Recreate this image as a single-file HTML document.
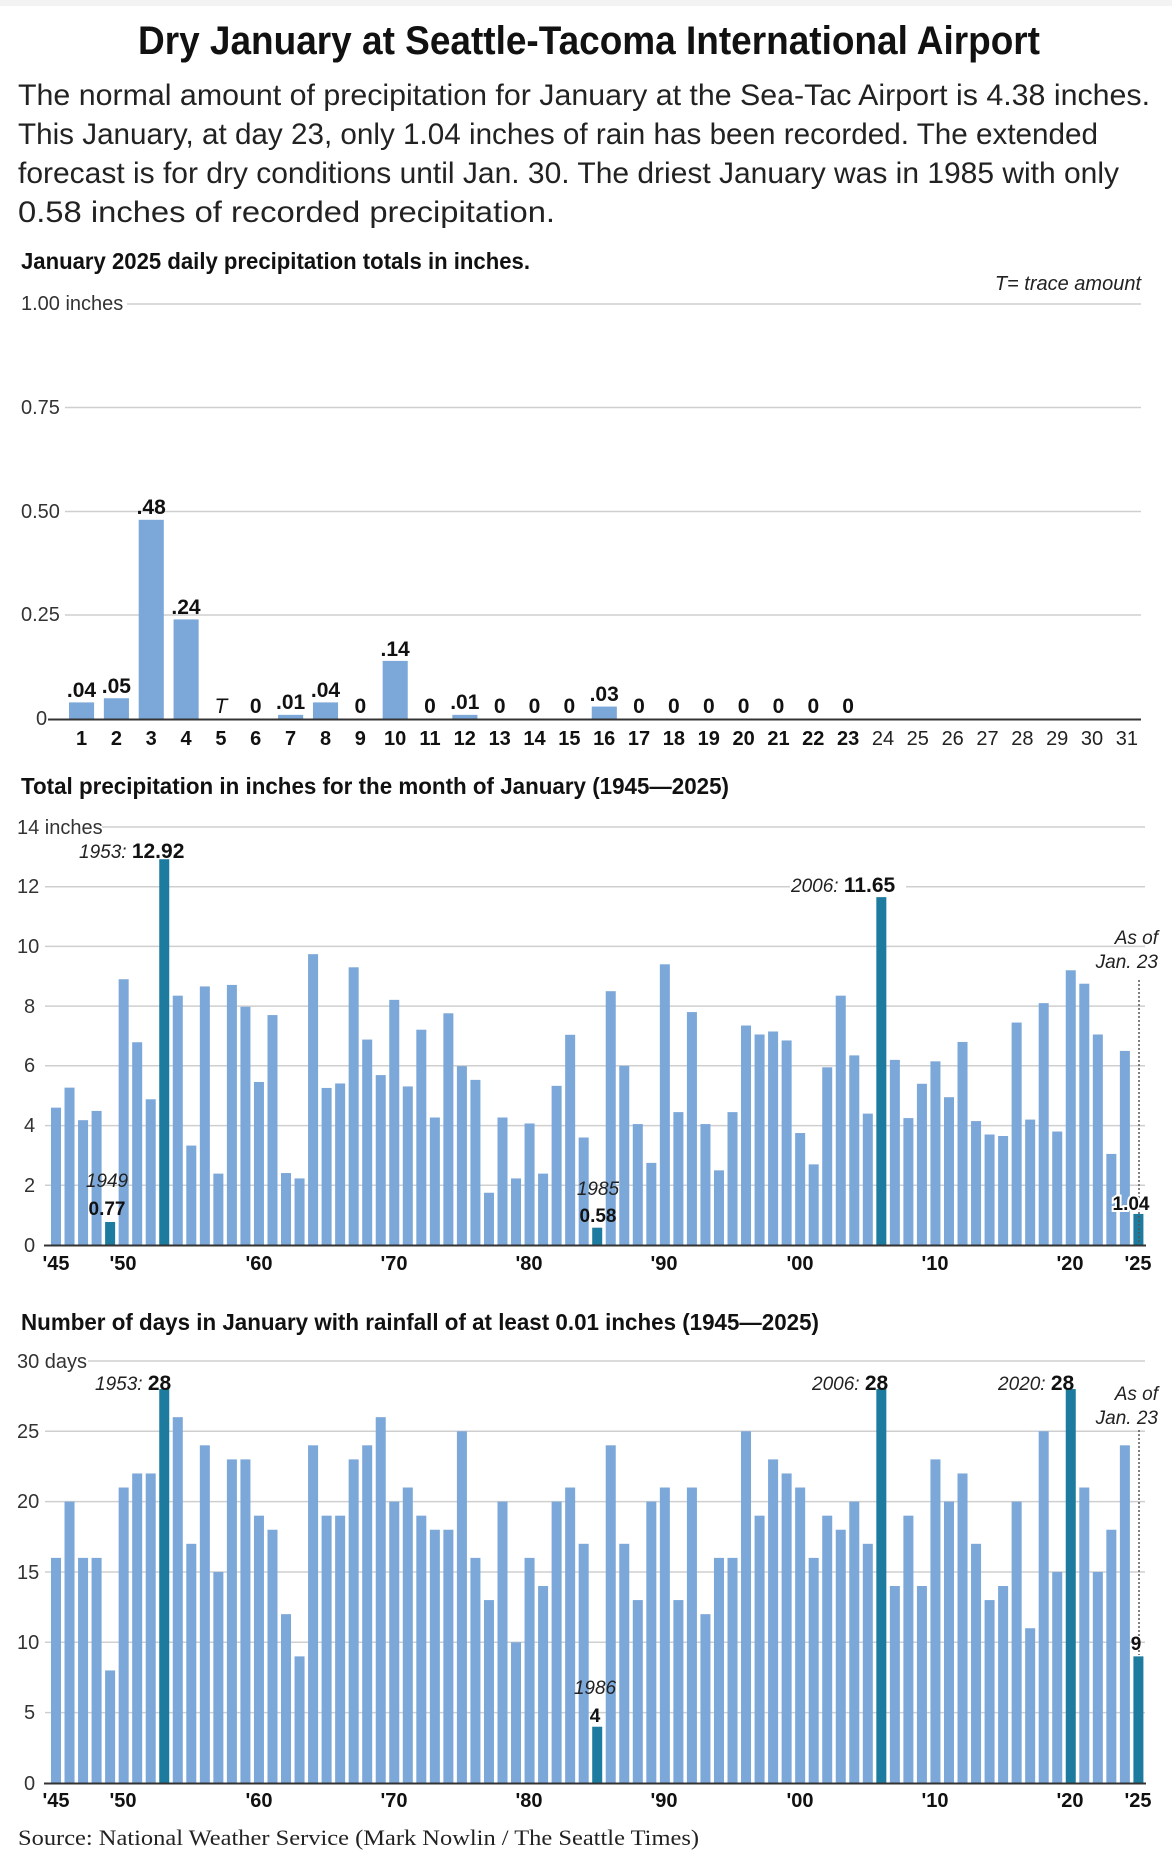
<!DOCTYPE html>
<html><head><meta charset="utf-8"><style>
html,body{margin:0;padding:0;background:#fff;width:1172px;height:1868px;overflow:hidden}
svg{display:block}
text{font-family:"Liberation Sans Narrow","Liberation Sans",sans-serif;fill:#222}
.b{font-weight:bold;fill:#111}
.t{font-size:20px;fill:#333}
.i{font-style:italic}
.g{stroke:#cfcfcf;stroke-width:1.5}
.lb{fill:#7ba7d9}
.dk{fill:#1e7ba0}
.xl{font-size:20px;font-weight:bold;fill:#111;text-anchor:middle}
.an{font-family:"Liberation Sans",sans-serif;font-size:19px}
</style></head><body>
<svg width="1172" height="1868" viewBox="0 0 1172 1868" xmlns="http://www.w3.org/2000/svg">
<rect x="0" y="0" width="1172" height="6" fill="#f3f3f3"/>
<text x="589" y="54" text-anchor="middle" class="b" font-size="40" textLength="902" lengthAdjust="spacingAndGlyphs">Dry January at Seattle-Tacoma International Airport</text>
<g font-size="30" fill="#222">
<text x="18" y="105" textLength="1132" lengthAdjust="spacingAndGlyphs">The normal amount of precipitation for January at the Sea-Tac Airport is 4.38 inches.</text>
<text x="18" y="144" textLength="1080" lengthAdjust="spacingAndGlyphs">This January, at day 23, only 1.04 inches of rain has been recorded. The extended</text>
<text x="18" y="183" textLength="1101" lengthAdjust="spacingAndGlyphs">forecast is for dry conditions until Jan. 30. The driest January was in 1985 with only</text>
<text x="18" y="222" textLength="537" lengthAdjust="spacingAndGlyphs">0.58 inches of recorded precipitation.</text>
</g>

<!-- Chart 1 -->
<text x="21" y="269" class="b" font-size="23" textLength="509" lengthAdjust="spacingAndGlyphs">January 2025 daily precipitation totals in inches.</text>
<text x="1141" y="290" class="i" font-size="20" text-anchor="end" fill="#333">T= trace amount</text>
<line x1="127" y1="304" x2="1141" y2="304" class="g"/>
<line x1="65" y1="407.5" x2="1141" y2="407.5" class="g"/>
<line x1="65" y1="511.5" x2="1141" y2="511.5" class="g"/>
<line x1="65" y1="615" x2="1141" y2="615" class="g"/>
<text x="21" y="310" class="t">1.00 inches</text>
<text x="21" y="414" class="t">0.75</text>
<text x="21" y="518" class="t">0.50</text>
<text x="21" y="621" class="t">0.25</text>
<text x="36" y="725" class="t">0</text>
<g transform="translate(69,719) scale(34.85,-415)" class="lb">
<rect x="0" y="0" width="0.72" height="0.04"/>
<rect x="1" y="0" width="0.72" height="0.05"/>
<rect x="2" y="0" width="0.72" height="0.48"/>
<rect x="3" y="0" width="0.72" height="0.24"/>
<rect x="6" y="0" width="0.72" height="0.01"/>
<rect x="7" y="0" width="0.72" height="0.04"/>
<rect x="9" y="0" width="0.72" height="0.14"/>
<rect x="11" y="0" width="0.72" height="0.01"/>
<rect x="15" y="0" width="0.72" height="0.03"/>
</g>
<line x1="48" y1="719.5" x2="1141" y2="719.5" stroke="#333" stroke-width="2"/>
<g font-size="21" class="b" text-anchor="middle">
<text x="81.5" y="697" class="b">.04</text>
<text x="116.4" y="693" class="b">.05</text>
<text x="151.2" y="514" class="b">.48</text>
<text x="186" y="614" class="b">.24</text>
<text x="220.9" y="713" class="b i" style="font-weight:normal">T</text>
<text x="255.7" y="713" class="b">0</text>
<text x="290.6" y="709" class="b">.01</text>
<text x="325.5" y="697" class="b">.04</text>
<text x="360.3" y="713" class="b">0</text>
<text x="395.1" y="656" class="b">.14</text>
<text x="430" y="713" class="b">0</text>
<text x="464.8" y="709" class="b">.01</text>
<text x="499.7" y="713" class="b">0</text>
<text x="534.5" y="713" class="b">0</text>
<text x="569.4" y="713" class="b">0</text>
<text x="604.2" y="701" class="b">.03</text>
<text x="639" y="713" class="b">0</text>
<text x="673.9" y="713" class="b">0</text>
<text x="708.8" y="713" class="b">0</text>
<text x="743.6" y="713" class="b">0</text>
<text x="778.5" y="713" class="b">0</text>
<text x="813.3" y="713" class="b">0</text>
<text x="848.1" y="713" class="b">0</text>
</g>
<g font-size="20" text-anchor="middle">
<text x="81.5" y="745" class="b">1</text><text x="116.4" y="745" class="b">2</text><text x="151.2" y="745" class="b">3</text><text x="186" y="745" class="b">4</text><text x="220.9" y="745" class="b">5</text><text x="255.7" y="745" class="b">6</text><text x="290.6" y="745" class="b">7</text><text x="325.5" y="745" class="b">8</text><text x="360.3" y="745" class="b">9</text><text x="395.1" y="745" class="b">10</text><text x="430" y="745" class="b">11</text><text x="464.8" y="745" class="b">12</text><text x="499.7" y="745" class="b">13</text><text x="534.5" y="745" class="b">14</text><text x="569.4" y="745" class="b">15</text><text x="604.2" y="745" class="b">16</text><text x="639" y="745" class="b">17</text><text x="673.9" y="745" class="b">18</text><text x="708.8" y="745" class="b">19</text><text x="743.6" y="745" class="b">20</text><text x="778.5" y="745" class="b">21</text><text x="813.3" y="745" class="b">22</text><text x="848.1" y="745" class="b">23</text>
<g fill="#777"><text x="883" y="745" fill="#777">24</text><text x="917.8" y="745" fill="#777">25</text><text x="952.7" y="745" fill="#777">26</text><text x="987.5" y="745" fill="#777">27</text><text x="1022.4" y="745" fill="#777">28</text><text x="1057.2" y="745" fill="#777">29</text><text x="1092" y="745" fill="#777">30</text><text x="1126.9" y="745" fill="#777">31</text></g>
</g>

<!-- Chart 2 -->
<text x="21" y="794" class="b" font-size="23" textLength="708" lengthAdjust="spacingAndGlyphs">Total precipitation in inches for the month of January (1945—2025)</text>
<line x1="102" y1="827" x2="1145" y2="827" class="g"/>
<line x1="45" y1="886.7" x2="790" y2="886.7" class="g"/>
<line x1="906" y1="886.7" x2="1145" y2="886.7" class="g"/>
<line x1="45" y1="946.4" x2="1145" y2="946.4" class="g"/>
<line x1="45" y1="1006.1" x2="1145" y2="1006.1" class="g"/>
<line x1="45" y1="1065.8" x2="1145" y2="1065.8" class="g"/>
<line x1="45" y1="1125.6" x2="1145" y2="1125.6" class="g"/>
<line x1="45" y1="1185.3" x2="1145" y2="1185.3" class="g"/>
<text x="17" y="834" class="t">14 inches</text>
<text x="17" y="893" class="t">12</text><text x="17" y="953" class="t">10</text><text x="24" y="1013" class="t">8</text><text x="24" y="1072" class="t">6</text><text x="24" y="1132" class="t">4</text><text x="24" y="1192" class="t">2</text><text x="24" y="1252" class="t">0</text>
<g transform="translate(51,1245) scale(13.53,-29.86)" class="lb">
<rect x="0" y="0" width="0.74" height="4.6"/><rect x="1" y="0" width="0.74" height="5.27"/><rect x="2" y="0" width="0.74" height="4.18"/><rect x="3" y="0" width="0.74" height="4.49"/><rect x="4" y="0" width="0.74" height="0.77" class="dk"/><rect x="5" y="0" width="0.74" height="8.9"/><rect x="6" y="0" width="0.74" height="6.79"/><rect x="7" y="0" width="0.74" height="4.88"/><rect x="8" y="0" width="0.74" height="12.92" class="dk"/><rect x="9" y="0" width="0.74" height="8.35"/>
<rect x="10" y="0" width="0.74" height="3.33"/><rect x="11" y="0" width="0.74" height="8.66"/><rect x="12" y="0" width="0.74" height="2.39"/><rect x="13" y="0" width="0.74" height="8.71"/><rect x="14" y="0" width="0.74" height="7.98"/><rect x="15" y="0" width="0.74" height="5.46"/><rect x="16" y="0" width="0.74" height="7.7"/><rect x="17" y="0" width="0.74" height="2.41"/><rect x="18" y="0" width="0.74" height="2.23"/><rect x="19" y="0" width="0.74" height="9.74"/>
<rect x="20" y="0" width="0.74" height="5.26"/><rect x="21" y="0" width="0.74" height="5.41"/><rect x="22" y="0" width="0.74" height="9.3"/><rect x="23" y="0" width="0.74" height="6.88"/><rect x="24" y="0" width="0.74" height="5.69"/><rect x="25" y="0" width="0.74" height="8.21"/><rect x="26" y="0" width="0.74" height="5.31"/><rect x="27" y="0" width="0.74" height="7.21"/><rect x="28" y="0" width="0.74" height="4.27"/><rect x="29" y="0" width="0.74" height="7.76"/>
<rect x="30" y="0" width="0.74" height="5.99"/><rect x="31" y="0" width="0.74" height="5.53"/><rect x="32" y="0" width="0.74" height="1.75"/><rect x="33" y="0" width="0.74" height="4.27"/><rect x="34" y="0" width="0.74" height="2.23"/><rect x="35" y="0" width="0.74" height="4.07"/><rect x="36" y="0" width="0.74" height="2.39"/><rect x="37" y="0" width="0.74" height="5.33"/><rect x="38" y="0" width="0.74" height="7.04"/><rect x="39" y="0" width="0.74" height="3.6"/>
<rect x="40" y="0" width="0.74" height="0.58" class="dk"/><rect x="41" y="0" width="0.74" height="8.5"/><rect x="42" y="0" width="0.74" height="6.0"/><rect x="43" y="0" width="0.74" height="4.05"/><rect x="44" y="0" width="0.74" height="2.75"/><rect x="45" y="0" width="0.74" height="9.4"/><rect x="46" y="0" width="0.74" height="4.45"/><rect x="47" y="0" width="0.74" height="7.8"/><rect x="48" y="0" width="0.74" height="4.05"/><rect x="49" y="0" width="0.74" height="2.5"/>
<rect x="50" y="0" width="0.74" height="4.45"/><rect x="51" y="0" width="0.74" height="7.35"/><rect x="52" y="0" width="0.74" height="7.05"/><rect x="53" y="0" width="0.74" height="7.15"/><rect x="54" y="0" width="0.74" height="6.85"/><rect x="55" y="0" width="0.74" height="3.75"/><rect x="56" y="0" width="0.74" height="2.7"/><rect x="57" y="0" width="0.74" height="5.95"/><rect x="58" y="0" width="0.74" height="8.35"/><rect x="59" y="0" width="0.74" height="6.35"/>
<rect x="60" y="0" width="0.74" height="4.4"/><rect x="61" y="0" width="0.74" height="11.65" class="dk"/><rect x="62" y="0" width="0.74" height="6.2"/><rect x="63" y="0" width="0.74" height="4.25"/><rect x="64" y="0" width="0.74" height="5.4"/><rect x="65" y="0" width="0.74" height="6.15"/><rect x="66" y="0" width="0.74" height="4.95"/><rect x="67" y="0" width="0.74" height="6.8"/><rect x="68" y="0" width="0.74" height="4.15"/><rect x="69" y="0" width="0.74" height="3.7"/>
<rect x="70" y="0" width="0.74" height="3.65"/><rect x="71" y="0" width="0.74" height="7.45"/><rect x="72" y="0" width="0.74" height="4.2"/><rect x="73" y="0" width="0.74" height="8.1"/><rect x="74" y="0" width="0.74" height="3.8"/><rect x="75" y="0" width="0.74" height="9.2"/><rect x="76" y="0" width="0.74" height="8.75"/><rect x="77" y="0" width="0.74" height="7.05"/><rect x="78" y="0" width="0.74" height="3.05"/><rect x="79" y="0" width="0.74" height="6.5"/>
<rect x="80" y="0" width="0.74" height="1.04" class="dk"/>
</g>
<line x1="44" y1="1245.5" x2="1146" y2="1245.5" stroke="#333" stroke-width="2"/>
<line x1="1139" y1="980" x2="1139" y2="1243" stroke="#555" stroke-width="1.5" stroke-dasharray="2,2"/>
<text x="79" y="858" class="an i">1953: <tspan class="b" font-style="normal" font-size="21">12.92</tspan></text>
<text x="791" y="892" class="an i">2006: <tspan class="b" font-style="normal" font-size="21">11.65</tspan></text>
<text x="1158" y="944" class="an i" text-anchor="end">As of</text>
<text x="1158" y="968" class="an i" text-anchor="end">Jan. 23</text>
<text x="107" y="1187" class="an i" text-anchor="middle">1949</text>
<text x="107" y="1215" class="an b" font-size="21" text-anchor="middle">0.77</text>
<text x="598" y="1195" class="an i" text-anchor="middle">1985</text>
<text x="598" y="1222" class="an b" font-size="21" text-anchor="middle">0.58</text>
<text x="1131" y="1210" class="an b" font-size="21" text-anchor="middle" stroke="#fff" stroke-width="4" paint-order="stroke">1.04</text>
<g>
<text x="56" y="1270" class="xl">'45</text><text x="123" y="1270" class="xl">'50</text><text x="259" y="1270" class="xl">'60</text><text x="394" y="1270" class="xl">'70</text><text x="529" y="1270" class="xl">'80</text><text x="664" y="1270" class="xl">'90</text><text x="800" y="1270" class="xl">'00</text><text x="935" y="1270" class="xl">'10</text><text x="1070" y="1270" class="xl">'20</text><text x="1138" y="1270" class="xl">'25</text>
</g>

<!-- Chart 3 -->
<text x="21" y="1330" class="b" font-size="23" textLength="798" lengthAdjust="spacingAndGlyphs">Number of days in January with rainfall of at least 0.01 inches (1945—2025)</text>
<line x1="88" y1="1361" x2="1145" y2="1361" class="g"/>
<line x1="45" y1="1431.3" x2="1145" y2="1431.3" class="g"/>
<line x1="45" y1="1501.6" x2="1145" y2="1501.6" class="g"/>
<line x1="45" y1="1572" x2="1145" y2="1572" class="g"/>
<line x1="45" y1="1642.3" x2="1145" y2="1642.3" class="g"/>
<line x1="45" y1="1712.6" x2="1145" y2="1712.6" class="g"/>
<text x="17" y="1368" class="t">30 days</text>
<text x="17" y="1438" class="t">25</text><text x="17" y="1508" class="t">20</text><text x="17" y="1579" class="t">15</text><text x="17" y="1649" class="t">10</text><text x="24" y="1719" class="t">5</text><text x="24" y="1790" class="t">0</text>
<g transform="translate(51,1783) scale(13.53,-14.07)" class="lb">
<rect x="0" y="0" width="0.74" height="16"/><rect x="1" y="0" width="0.74" height="20"/><rect x="2" y="0" width="0.74" height="16"/><rect x="3" y="0" width="0.74" height="16"/><rect x="4" y="0" width="0.74" height="8"/><rect x="5" y="0" width="0.74" height="21"/><rect x="6" y="0" width="0.74" height="22"/><rect x="7" y="0" width="0.74" height="22"/><rect x="8" y="0" width="0.74" height="28" class="dk"/><rect x="9" y="0" width="0.74" height="26"/>
<rect x="10" y="0" width="0.74" height="17"/><rect x="11" y="0" width="0.74" height="24"/><rect x="12" y="0" width="0.74" height="15"/><rect x="13" y="0" width="0.74" height="23"/><rect x="14" y="0" width="0.74" height="23"/><rect x="15" y="0" width="0.74" height="19"/><rect x="16" y="0" width="0.74" height="18"/><rect x="17" y="0" width="0.74" height="12"/><rect x="18" y="0" width="0.74" height="9"/><rect x="19" y="0" width="0.74" height="24"/>
<rect x="20" y="0" width="0.74" height="19"/><rect x="21" y="0" width="0.74" height="19"/><rect x="22" y="0" width="0.74" height="23"/><rect x="23" y="0" width="0.74" height="24"/><rect x="24" y="0" width="0.74" height="26"/><rect x="25" y="0" width="0.74" height="20"/><rect x="26" y="0" width="0.74" height="21"/><rect x="27" y="0" width="0.74" height="19"/><rect x="28" y="0" width="0.74" height="18"/><rect x="29" y="0" width="0.74" height="18"/>
<rect x="30" y="0" width="0.74" height="25"/><rect x="31" y="0" width="0.74" height="16"/><rect x="32" y="0" width="0.74" height="13"/><rect x="33" y="0" width="0.74" height="20"/><rect x="34" y="0" width="0.74" height="10"/><rect x="35" y="0" width="0.74" height="16"/><rect x="36" y="0" width="0.74" height="14"/><rect x="37" y="0" width="0.74" height="20"/><rect x="38" y="0" width="0.74" height="21"/><rect x="39" y="0" width="0.74" height="17"/>
<rect x="40" y="0" width="0.74" height="4" class="dk"/><rect x="41" y="0" width="0.74" height="24"/><rect x="42" y="0" width="0.74" height="17"/><rect x="43" y="0" width="0.74" height="13"/><rect x="44" y="0" width="0.74" height="20"/><rect x="45" y="0" width="0.74" height="21"/><rect x="46" y="0" width="0.74" height="13"/><rect x="47" y="0" width="0.74" height="21"/><rect x="48" y="0" width="0.74" height="12"/><rect x="49" y="0" width="0.74" height="16"/>
<rect x="50" y="0" width="0.74" height="16"/><rect x="51" y="0" width="0.74" height="25"/><rect x="52" y="0" width="0.74" height="19"/><rect x="53" y="0" width="0.74" height="23"/><rect x="54" y="0" width="0.74" height="22"/><rect x="55" y="0" width="0.74" height="21"/><rect x="56" y="0" width="0.74" height="16"/><rect x="57" y="0" width="0.74" height="19"/><rect x="58" y="0" width="0.74" height="18"/><rect x="59" y="0" width="0.74" height="20"/>
<rect x="60" y="0" width="0.74" height="17"/><rect x="61" y="0" width="0.74" height="28" class="dk"/><rect x="62" y="0" width="0.74" height="14"/><rect x="63" y="0" width="0.74" height="19"/><rect x="64" y="0" width="0.74" height="14"/><rect x="65" y="0" width="0.74" height="23"/><rect x="66" y="0" width="0.74" height="20"/><rect x="67" y="0" width="0.74" height="22"/><rect x="68" y="0" width="0.74" height="17"/><rect x="69" y="0" width="0.74" height="13"/>
<rect x="70" y="0" width="0.74" height="14"/><rect x="71" y="0" width="0.74" height="20"/><rect x="72" y="0" width="0.74" height="11"/><rect x="73" y="0" width="0.74" height="25"/><rect x="74" y="0" width="0.74" height="15"/><rect x="75" y="0" width="0.74" height="28" class="dk"/><rect x="76" y="0" width="0.74" height="21"/><rect x="77" y="0" width="0.74" height="15"/><rect x="78" y="0" width="0.74" height="18"/><rect x="79" y="0" width="0.74" height="24"/>
<rect x="80" y="0" width="0.74" height="9" class="dk"/>
</g>
<line x1="44" y1="1783.5" x2="1146" y2="1783.5" stroke="#333" stroke-width="2"/>
<line x1="1139" y1="1430" x2="1139" y2="1655" stroke="#555" stroke-width="1.5" stroke-dasharray="2,2"/>
<text x="95" y="1390" class="an i">1953: <tspan class="b" font-style="normal" font-size="21">28</tspan></text>
<text x="812" y="1390" class="an i">2006: <tspan class="b" font-style="normal" font-size="21">28</tspan></text>
<text x="998" y="1390" class="an i">2020: <tspan class="b" font-style="normal" font-size="21">28</tspan></text>
<text x="1158" y="1400" class="an i" text-anchor="end">As of</text>
<text x="1158" y="1424" class="an i" text-anchor="end">Jan. 23</text>
<text x="595" y="1694" class="an i" text-anchor="middle">1986</text>
<text x="595" y="1722" class="an b" font-size="21" text-anchor="middle">4</text>
<text x="1136" y="1650" class="an b" font-size="21" text-anchor="middle">9</text>
<g>
<text x="56" y="1807" class="xl">'45</text><text x="123" y="1807" class="xl">'50</text><text x="259" y="1807" class="xl">'60</text><text x="394" y="1807" class="xl">'70</text><text x="529" y="1807" class="xl">'80</text><text x="664" y="1807" class="xl">'90</text><text x="800" y="1807" class="xl">'00</text><text x="935" y="1807" class="xl">'10</text><text x="1070" y="1807" class="xl">'20</text><text x="1138" y="1807" class="xl">'25</text>
</g>
<text x="18" y="1845" font-family="Liberation Serif, serif" style="font-family:'Liberation Serif',serif" font-size="22" fill="#666" textLength="681" lengthAdjust="spacingAndGlyphs">Source: National Weather Service (Mark Nowlin / The Seattle Times)</text>
</svg>
</body></html>
